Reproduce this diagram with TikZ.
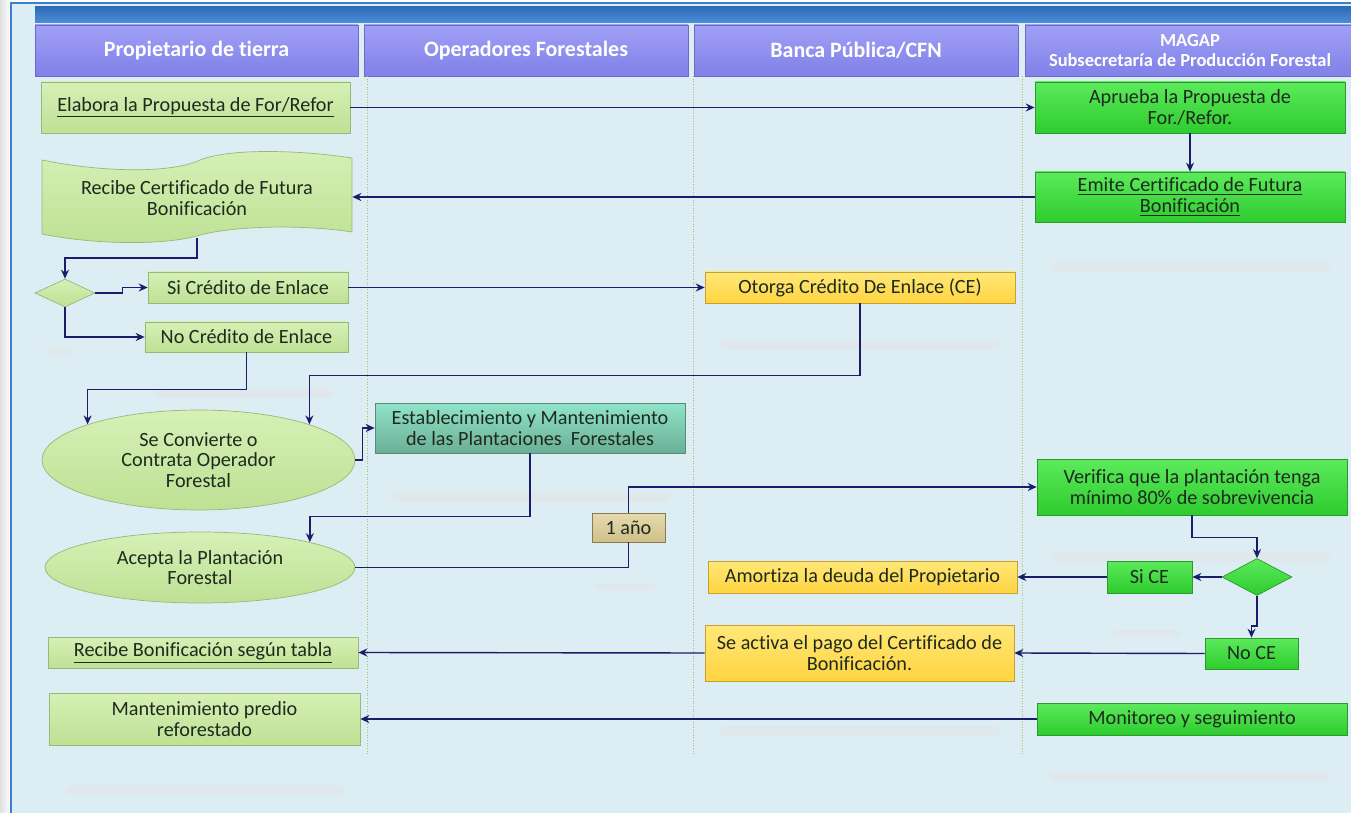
\documentclass[tikz,border=0pt]{standalone}
\usepackage{fontspec}
\setmainfont{Carlito}[Ligatures={NoCommon}]
\usetikzlibrary{arrows.meta,shapes.geometric}
\definecolor{panel}{HTML}{DCEDF3}
\definecolor{rim}{HTML}{3C7FD0}
\definecolor{bartop}{HTML}{2F6CB8}
\definecolor{barbot}{HTML}{4D8DD6}
\definecolor{lanetop}{HTML}{A0A0F6}
\definecolor{lanebot}{HTML}{8080E8}
\definecolor{laneedge}{HTML}{6A6AC8}
\definecolor{paletop}{HTML}{D6F0B6}
\definecolor{palebot}{HTML}{BEE194}
\definecolor{paleedge}{HTML}{98B878}
\definecolor{vividtop}{HTML}{5CEA5C}
\definecolor{vividbot}{HTML}{2ECC2E}
\definecolor{vividedge}{HTML}{2A9A2A}
\definecolor{goldtop}{HTML}{FFE878}
\definecolor{goldbot}{HTML}{FFD440}
\definecolor{goldedge}{HTML}{C8A030}
\definecolor{tealtop}{HTML}{90E4C8}
\definecolor{tealbot}{HTML}{6AAE96}
\definecolor{tantop}{HTML}{E6DAAE}
\definecolor{tanbot}{HTML}{CFC08A}
\definecolor{tanedge}{HTML}{8A7A50}
\definecolor{navy}{HTML}{1C1C6C}
\definecolor{divider}{HTML}{A8C070}
\definecolor{ink}{HTML}{1E2A1E}

\tikzset{
	lane/.style={draw=laneedge, top color=lanetop, bottom color=lanebot, text=white, font=\bfseries\fontsize{12.5}{13}\selectfont, inner sep=0pt, minimum height=1.02cm, align=center},
	pale/.style={draw=paleedge, top color=paletop, bottom color=palebot, inner sep=0pt, align=center},
	vivid/.style={draw=vividedge, top color=vividtop, bottom color=vividbot, inner sep=0pt, align=center},
	gold/.style={draw=goldedge, top color=goldtop, bottom color=goldbot, inner sep=0pt, align=center},
	teal/.style={draw=tealbot!80!black, top color=tealtop, bottom color=tealbot, inner sep=0pt, align=center},
	tan/.style={draw=tanedge, top color=tantop, bottom color=tanbot, inner sep=0pt, align=center},
	smudge/.style={fill=black!10, opacity=0.55, rounded corners=4pt},
	flow/.style={draw=navy, line width=0.8pt, -{Stealth[length=1.8mm,width=1.6mm]}},
	lanerule/.style={draw=divider, densely dotted, line width=0.5pt},
	every node/.append style={text=ink, font=\fontsize{11.5}{11.8}\selectfont}
}

\begin{document}
\begin{tikzpicture}[x=0.02cm, y=-0.02cm]
			%%%%% START %%%%%
			\useasboundingbox (0,0) rectangle (1351,813);
			
			\fill[left color=black!12, right color=white] (0,0) rectangle (11,813);
			\fill[panel] (11,3) rectangle (1351,813);
			\draw[rim, line width=1pt] (11,813) -- (11,3) -- (1351,3);
			\shade[top color=bartop, bottom color=barbot] (35,7) rectangle (1351,23);
			
			% smudges
			\fill[smudge] (1050,262) rectangle (1330,272);
			\fill[smudge] (720,341) rectangle (1000,350);
			\fill[smudge] (156,389) rectangle (332,398);
			\fill[smudge] (390,492) rectangle (670,502);
			\fill[smudge] (1050,552) rectangle (1330,562);
			\fill[smudge] (595,583) rectangle (655,590);
			\fill[smudge] (1110,630) rectangle (1180,637);
			\fill[smudge] (720,726) rectangle (1000,736);
			\fill[smudge] (1050,772) rectangle (1330,782);
			\fill[smudge] (65,785) rectangle (345,795);
			\fill[smudge] (45,347) rectangle (75,355);
			
			% lanes
			\node[lane, minimum width=6.46cm] (own) at (196.5,50.5) {Propietario de tierra};
			\node[lane, minimum width=6.48cm] (ope) at (526,50.5) {Operadores Forestales};
			\node[lane, minimum width=6.48cm] (bank) at (856,50.5) {Banca Pública/CFN};
			\node[lane, minimum width=6.6cm, font=\bfseries\fontsize{10.5}{11.2}\selectfont] (magap) at (1190,50.5) {MAGAP\\Subsecretaría de Producción Forestal};
			
			\draw[lanerule] (367,76) -- (367,755);
			\draw[lanerule] (693,76) -- (693,755);
			\draw[lanerule] (1022,76) -- (1022,755);
			
			% boxes
			\node[pale, minimum width=6.18cm, minimum height=1.02cm] (elab) at (195.5,107.5) {\underline{Elabora la Propuesta de For/Refor}};
			\node[vivid, minimum width=6.2cm, minimum height=1.02cm] (aprueba) at (1190,107.5) {Aprueba la Propuesta de\\For./Refor.};
			\node[vivid, minimum width=6.2cm, minimum height=1.0cm] (emite) at (1190,197) {\underline{Emite Certificado de Futura}\\\underline{Bonificación}};
			
			\draw[draw=paleedge, top color=paletop, bottom color=palebot] (42,160) .. controls (100,172) and (170,174) .. (200,160) .. controls (230,148) and (300,150) .. (352,158) -- (352,232) .. controls (300,224) and (230,226) .. (197,236) .. controls (160,246) and (90,244) .. (42,234) -- cycle;
			\node[inner sep=0pt, minimum width=6.2cm, minimum height=1.62cm, align=center] (recibe) at (197,198) {Recibe Certificado de Futura\\Bonificación};
			
			\node[pale, diamond, minimum width=1.2cm, minimum height=0.56cm] (ask) at (65,293) {};
			\node[pale, minimum width=4.0cm, minimum height=0.62cm] (sicred) at (248,287.5) {Si Crédito de Enlace};
			\node[pale, minimum width=4.06cm, minimum height=0.6cm] (nocred) at (246.5,337) {No Crédito de Enlace};
			\node[gold, minimum width=6.2cm, minimum height=0.62cm] (otorga) at (860,287.5) {Otorga Crédito De Enlace (CE)};
			
			\node[pale, ellipse, minimum width=6.26cm, minimum height=2.0cm] (contrata) at (198.5,460) {Se Convierte o\\Contrata Operador\\Forestal};
			\node[teal, minimum width=6.2cm, minimum height=1.0cm] (planta) at (530,428) {Establecimiento y Mantenimiento\\de las Plantaciones\ \ Forestales};
			\node[vivid, minimum width=6.2cm, minimum height=1.12cm] (verifica) at (1192,487) {Verifica que la plantación tenga\\mínimo 80\% de sobrevivencia};
			\node[tan, minimum width=1.46cm, minimum height=0.58cm] (year) at (628.5,527.5) {1 año};
			\node[pale, ellipse, minimum width=6.2cm, minimum height=1.42cm] (acepta) at (200,567.5) {Acepta la Plantación\\Forestal};
			
			\node[vivid, diamond, minimum width=1.4cm, minimum height=0.74cm] (askce) at (1257,577) {};
			\node[vivid, minimum width=1.7cm, minimum height=0.64cm] (sice) at (1149.5,577) {Si CE};
			\node[gold, minimum width=6.18cm, minimum height=0.64cm] (amortiza) at (862.5,577) {Amortiza la deuda del Propietario};
			\node[vivid, minimum width=1.86cm, minimum height=0.62cm] (noce) at (1251.5,653.5) {No CE};
			\node[gold, minimum width=6.18cm, minimum height=1.12cm] (activa) at (859.5,653) {Se activa el pago del Certificado de\\Bonificación.};
			\node[pale, minimum width=6.2cm, minimum height=0.62cm] (recbon) at (203,652.5) {\underline{Recibe Bonificación según tabla}};
			\node[pale, minimum width=6.22cm, minimum height=1.04cm] (mant) at (204.5,719) {Mantenimiento predio\\reforestado};
			\node[vivid, minimum width=6.2cm, minimum height=0.64cm] (monit) at (1192,719) {Monitoreo y seguimiento};
			
			% connectors
			\draw[flow] (elab.east) -- (aprueba.west);
			\draw[flow] (aprueba.south) -- (emite.north);
			\draw[flow] (emite.west) -- (emite.west -| recibe.east);
			\draw[flow] (recibe.south) ++(0,-1) -- ++(0,20) -| (ask.north);
			\draw[flow] (ask.east) -- ++(27,0) |- (sicred.west);
			\draw[flow] (ask.south) |- (nocred.west);
			\draw[flow] (sicred.east) -- (otorga.west);
			\draw[flow] (otorga.south) -- ++(0,72) -| (contrata.north east);
			\draw[flow] (nocred.south) -- ++(0,37) -| (contrata.north west);
			\draw[flow] (contrata.east) -- ++(7,0) |- (planta.west);
			\draw[flow] (planta.south) -- ++(0,63) -| (acepta.north east);
			\draw[draw=navy, line width=0.8pt] (acepta.east) -| (year.south);
			\draw[flow] (year.north) |- (verifica.west);
			\draw[flow] (verifica.south) -- ++(0,22) -| (askce.north);
			\draw[flow] (askce.west) -- (sice.east);
			\draw[flow] (sice.west) -- (amortiza.east);
			\draw[flow] (askce.south) -- ++(0,30) -| (noce.north);
			\draw[flow] (noce.west) -- (activa.east);
			\draw[flow] (activa.west) -- (recbon.east);
			\draw[flow] (monit.west) -- (mant.east);
			
			%%%%% END %%%%%
\end{tikzpicture}
\end{document}
